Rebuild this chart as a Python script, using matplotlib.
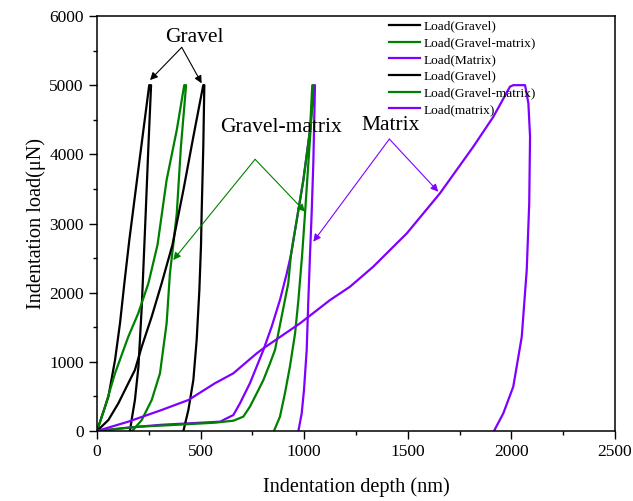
import matplotlib
matplotlib.use("Agg")
import matplotlib.pyplot as plt
from matplotlib.ticker import MultipleLocator

plt.rcParams['font.family'] = ['Liberation Serif', 'DejaVu Serif']

# ---- data (depth in nm, load in uN) ----
gravel1_depth = [0, 55, 87, 111, 132, 156, 193, 224, 252,
                 261, 248, 235, 216, 200, 183, 167, 159]
gravel1_load = [0, 496, 1026, 1557, 2135, 2761, 3629, 4352, 5000,
                5000, 4110, 3147, 1797, 930, 448, 159, 0]

gm1_depth = [0, 39, 87, 151, 199, 248, 292, 336, 385, 421,
             430, 405, 385, 368, 352, 336, 304, 264, 216, 170]
gm1_load = [0, 352, 834, 1363, 1701, 2135, 2690, 3629, 4352, 5000,
            5000, 4110, 3147, 2690, 2280, 1557, 834, 448, 159, 0]

matrix1_depth = [0, 151, 312, 594, 658, 690, 738, 803, 843, 883, 916, 936, 964, 996, 1028, 1048,
                 1052, 1044, 1036, 1028, 1020, 1012, 999, 988, 972]
matrix1_load = [0, 50, 90, 135, 231, 400, 690, 1171, 1508, 1894, 2280, 2545, 3050, 3629, 4352, 5000,
                5000, 3870, 3147, 2545, 1894, 1171, 593, 256, 0]

gravel2_depth = [0, 55, 103, 151, 183, 216, 264, 312, 364, 417, 465, 502, 513,
                 518, 513, 505, 502, 494, 481, 465, 441, 417]
gravel2_load = [0, 159, 400, 690, 882, 1219, 1653, 2135, 2690, 3484, 4255, 4833, 5000,
                5000, 4110, 3147, 2690, 2038, 1316, 737, 304, 0]

gm2_depth = [0, 207, 368, 569, 658, 706, 738, 771, 803, 835, 859, 891, 923, 936, 964, 996, 1028, 1039,
             1044, 1036, 1020, 1004, 990, 972, 956, 931, 907, 883, 854]
gm2_load = [0, 63, 87, 120, 149, 207, 352, 545, 737, 979, 1171, 1653, 2135, 2545, 3050, 3629, 4352, 5000,
            5000, 4593, 3870, 3147, 2545, 1894, 1412, 930, 545, 207, 0]

matrix2_depth = [0, 151, 312, 441, 569, 658, 771, 803, 980, 1125, 1221, 1333, 1495, 1655, 1816,
                 1913, 1993, 2009, 2066, 2082, 2090, 2086, 2074, 2050, 2009, 1961, 1916]
matrix2_load = [0, 135, 304, 448, 690, 834, 1123, 1195, 1557, 1894, 2086, 2375, 2857, 3436, 4110,
                4544, 4978, 5000, 5000, 4737, 4255, 3291, 2328, 1363, 641, 256, 0]

labels = ['Load(Gravel)', 'Load(Gravel-matrix)', 'Load(Matrix)',
          'Load(Gravel)', 'Load(Gravel-matrix)', 'Load(matrix)']
BLACK, GREEN, PURPLE = '#000000', '#008000', '#8000FF'

fig = plt.figure(figsize=(6.33, 5.01), dpi=100)
ax = fig.add_axes([97/633, 1 - 431/501, (615-97)/633, (431-16)/501])

series = [(gravel1_depth, gravel1_load, BLACK),
          (gm1_depth, gm1_load, GREEN),
          (matrix1_depth, matrix1_load, PURPLE),
          (gravel2_depth, gravel2_load, BLACK),
          (gm2_depth, gm2_load, GREEN),
          (matrix2_depth, matrix2_load, PURPLE)]
for (d, l, c), lab in zip(series, labels):
    ax.plot(d, l, color=c, lw=1.6, label=lab, solid_joinstyle='round')

ax.set_xlim(0, 2500)
ax.set_ylim(0, 6000)
ax.xaxis.set_major_locator(MultipleLocator(500))
ax.xaxis.set_minor_locator(MultipleLocator(250))
ax.yaxis.set_major_locator(MultipleLocator(1000))
ax.yaxis.set_minor_locator(MultipleLocator(500))
ax.tick_params(which='both', direction='out', top=False, right=False,
               labelsize=12.5, width=1.0, pad=3.5)
ax.tick_params(which='major', length=6)
ax.tick_params(which='minor', length=3)
for s in ax.spines.values():
    s.set_linewidth(1.1)

ax.set_xlabel('Indentation depth (nm)', fontsize=14.6, labelpad=12)
ax.set_ylabel('Indentation load(μN)', fontsize=14.6, labelpad=2)

leg = ax.legend(loc='upper left', bbox_to_anchor=(0.563, 0.99), frameon=False,
                fontsize=9.6, handlelength=2.35, handletextpad=0.28,
                labelspacing=0.33, borderpad=0, borderaxespad=0)

# annotations
ax.text(468, 5696, 'Gravel', fontsize=15.5, ha='center', va='center')
for tip in [(256, 5074), (505, 5027)]:
    ax.annotate('', xy=tip, xytext=(409, 5547),
                arrowprops=dict(arrowstyle='-|>', color=BLACK, lw=0.8,
                                mutation_scale=11, shrinkA=0, shrinkB=0))

ax.text(888, 4395, 'Gravel-matrix', fontsize=15.5, ha='center', va='center')
for tip in [(368, 2472), (1004, 3171)]:
    ax.annotate('', xy=tip, xytext=(763, 3928),
                arrowprops=dict(arrowstyle='-|>', color=GREEN, lw=0.8,
                                mutation_scale=11, shrinkA=0, shrinkB=0))

ax.text(1419, 4424, 'Matrix', fontsize=15.5, ha='center', va='center')
for tip in [(1044, 2737), (1647, 3460)]:
    ax.annotate('', xy=tip, xytext=(1411, 4221),
                arrowprops=dict(arrowstyle='-|>', color=PURPLE, lw=0.8,
                                mutation_scale=11, shrinkA=0, shrinkB=0))

fig.savefig('out.png', dpi=100)
